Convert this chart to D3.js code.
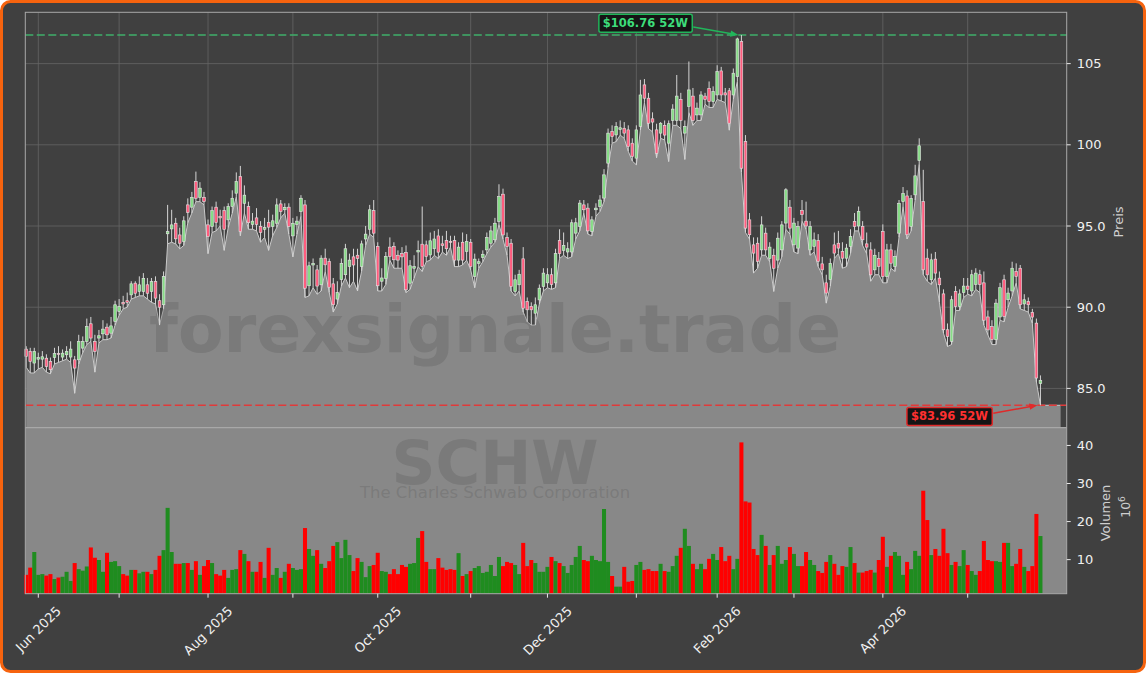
<!DOCTYPE html>
<html lang="de">
<head>
<meta charset="utf-8">
<title>SCHW</title>
<script src="https://d3js.org/d3.v7.min.js"></script>
<style>
body { margin: 0; background: #fff; font-family: "DejaVu Sans", sans-serif; }
</style>
</head>
<body>
<div id="chart"></div>
<script>
"use strict"

// Kursdaten (Mio. Stück beim Volumen), erster Handelstag 28.05.2025
const opens = [87.42,87.28,86.56,86.8,86.8,86.86,86.66,86.9,87.15,86.93,87.07,86.93,86.76,86.76,87.48,87.89,88.98,87.89,88.10,88.36,
  88.77,88.40,89.12,89.74,90.3,90.4,90.76,91.48,90.97,90.97,91.38,90.97,91.58,90.4,90.15,94.52,94.82,95.17,94.45,94.04,
  96.30,96.16,97.74,96.77,96.77,95.07,94.97,96.16,95.6,95.95,95.38,96.20,97.02,98.05,96.4,96.2,95.1,95.5,94.97,94.8,
  95.23,94.97,95.17,96.36,96.0,96.16,94.39,95.1,95.89,96.30,91.32,92.6,92.3,91.38,93.02,92.81,91.44,90.5,91.7,92.0,
  92.5,93.1,93.2,92.5,94.2,94.8,95.95,93.74,91.6,91.78,93.70,93.74,93.2,93.3,93.37,91.48,92.4,93.4,93.88,93.84,
  93.22,93.6,94.39,93.9,94.1,94.05,94.1,92.9,94.0,93.43,94.0,91.89,92.7,93.06,93.53,93.94,94.15,95.28,96.96,94.29,
  93.94,90.97,91.38,92.98,90.35,90.05,89.63,90.45,91.28,91.5,92.0,91.5,94.1,93.5,93.4,93.4,94.56,94.97,96.3,96.1,
  94.66,96.0,96.2,96.72,98.87,100.82,100.61,100.95,101.02,100.92,100.1,99.18,101.13,103.69,102.87,101.6,100.92,100.72,101.2,100.1,
  101.5,101.5,102.8,100.72,102.36,103.0,101.84,101.84,103.0,103.48,102.66,103.07,104.55,103.2,103.33,103.07,104.2,106.36,100.2,95.38,
  93.84,93.94,93.53,94.56,93.0,93.2,92.9,93.53,95.18,96.16,93.84,93.64,95.96,95.3,93.53,93.74,94.1,92.67,91.5,91.7,
  93.84,93.94,93.43,93.02,93.74,95.28,95.0,94.97,93.9,93.53,92.3,93.0,94.66,91.89,93.53,92.51,94.56,96.5,96.85,94.97,
  96.92,99.03,96.5,93.02,91.69,92.96,91.79,90.82,88.61,87.9,90.97,90.05,90.9,91.3,91.0,91.4,92.0,91.5,89.4,88.8,
  88.0,89.4,91.69,90.46,91.0,92.2,92.4,90.2,90.35,89.68,89.02,85.3];
const highs = [87.6,87.5,87.5,87.2,87.3,87.1,86.9,87.5,87.6,87.4,87.6,87.9,87.0,88.3,88.2,89.3,89.4,88.3,88.6,89.2,
  89.0,89.4,90.4,90.5,90.7,90.9,91.6,91.6,91.9,92.1,91.8,91.8,91.9,90.8,92.2,96.3,96.0,95.5,94.9,95.6,
  96.7,97.1,98.35,97.7,97.1,95.4,96.2,96.5,96.0,96.2,96.4,97.2,98.3,98.7,97.5,96.5,95.8,96.1,95.3,95.5,
  96.0,95.7,96.7,96.6,96.4,96.4,95.5,95.6,96.9,96.6,92.8,93.0,92.6,93.2,93.6,93.0,91.8,91.6,93.0,93.9,
  93.3,93.6,93.6,94.1,95.0,96.3,96.6,94.0,92.4,93.4,94.3,94.0,93.5,93.7,93.8,92.9,93.2,94.1,96.2,94.1,
  94.6,94.7,94.8,94.4,94.7,94.4,94.4,94.0,94.6,94.5,94.2,93.3,93.0,93.5,94.6,95.0,95.5,97.57,97.3,94.6,
  94.2,92.0,92.3,93.7,90.6,90.3,90.6,91.4,92.4,92.4,92.4,93.6,94.8,94.6,94.0,95.4,95.5,96.6,96.6,96.4,
  95.6,96.4,96.9,98.5,101.0,101.2,101.4,101.5,101.4,101.2,100.4,101.2,104.0,104.05,103.2,102.0,101.3,101.4,101.5,101.5,
  102.5,104.3,103.2,101.5,105.13,103.5,102.6,103.3,103.2,103.9,103.6,104.9,104.8,103.5,103.5,104.7,106.6,106.76,100.6,95.8,
  94.3,94.3,95.6,94.9,94.0,93.6,94.6,95.3,97.33,96.6,95.5,95.3,96.6,96.5,95.3,94.6,94.5,93.1,92.0,93.0,
  94.6,94.7,94.0,93.9,94.8,95.8,96.2,95.3,94.6,94.0,93.6,93.4,95.1,93.9,93.9,93.5,96.6,97.4,97.2,96.9,
  98.77,100.4,98.46,93.6,93.3,93.4,92.2,91.1,89.0,90.7,91.3,91.1,91.8,91.8,92.3,92.4,92.3,92.2,89.8,89.2,
  90.5,91.5,92.0,91.2,92.8,92.7,92.6,90.8,90.6,89.9,89.3,85.8];
const lows = [86.3,85.95,85.95,86.2,86.3,86.0,85.9,86.5,86.6,86.7,86.8,86.6,84.7,86.5,87.2,87.7,87.9,86.0,87.8,88.0,
  88.0,88.1,88.9,89.5,89.9,90.0,90.5,90.6,90.7,90.7,90.5,90.3,90.2,88.9,89.9,93.9,94.0,93.9,93.6,93.8,
  95.2,95.8,96.5,96.5,96.3,93.3,94.6,94.7,95.0,93.5,94.9,95.8,96.8,94.4,95.8,94.8,94.8,94.7,94.0,94.3,
  93.5,94.4,94.9,95.5,95.8,94.5,93.1,94.5,95.6,90.6,90.7,91.2,90.8,91.0,92.2,90.9,89.7,90.2,91.3,91.8,
  91.2,91.6,91.0,92.2,93.8,94.5,94.3,91.0,91.0,91.4,92.9,92.4,92.4,92.4,90.9,91.1,91.8,92.5,92.2,92.8,
  92.9,93.2,93.0,93.4,93.2,93.7,92.5,92.5,92.6,92.9,92.3,91.2,92.4,92.8,93.3,93.7,94.0,95.1,94.2,93.2,
  91.0,90.7,91.0,89.7,89.1,88.9,88.9,90.2,91.0,91.2,91.1,91.2,93.0,93.2,93.0,93.1,94.2,94.7,95.8,94.5,
  94.4,95.6,95.9,96.5,98.6,100.1,100.2,100.6,100.4,99.6,99.0,98.77,100.9,102.6,101.0,100.8,99.2,100.4,100.3,98.97,
  101.2,101.2,101.0,99.1,102.0,101.2,101.5,101.5,102.5,102.3,102.3,102.8,102.7,102.6,100.9,102.8,103.9,98.3,94.6,94.2,
  92.1,92.4,93.2,93.2,92.8,90.97,92.4,93.1,94.8,94.5,93.4,93.3,95.3,94.8,93.2,93.4,92.5,92.0,90.25,91.3,
  93.0,93.3,92.4,92.5,93.3,94.7,94.7,93.8,93.3,91.6,92.0,92.0,91.5,91.5,92.4,92.2,94.3,96.2,94.2,94.7,
  96.6,98.8,92.0,91.6,91.4,91.8,90.3,88.4,87.58,87.7,89.8,89.8,90.6,90.8,90.7,91.1,90.9,88.9,88.3,87.7,
  87.7,89.2,89.1,90.0,90.7,91.5,89.9,89.8,89.7,89.0,85.4,83.96];
const closes = [86.97,86.66,87.28,86.9,86.95,86.35,86.15,87.15,87.1,87.17,87.28,87.42,86.25,87.89,87.89,88.81,88.10,87.28,88.24,88.65,
  88.30,88.85,90.15,90.05,90.2,90.3,91.44,90.86,91.38,91.78,90.86,91.58,90.56,90.0,91.89,94.66,95.07,94.21,93.94,95.32,
  95.83,96.77,96.71,97.33,96.51,94.35,95.95,95.21,95.5,94.80,96.20,96.71,97.74,94.66,96.9,95.2,95.3,95.1,94.6,94.9,
  94.93,95.32,96.30,95.89,96.15,94.97,95.17,95.3,96.71,91.17,92.55,92.7,91.3,93.02,92.61,91.23,90.15,90.9,92.7,93.6,
  92.9,92.6,93.0,93.9,94.5,96.0,94.56,91.32,91.8,93.12,93.12,92.92,92.9,93.1,91.07,92.55,92.5,93.5,92.51,93.12,
  94.09,94.2,93.39,93.8,93.6,94.0,92.9,93.7,92.9,94.04,92.5,92.96,92.8,93.26,94.29,94.7,95.17,96.81,94.45,93.74,
  91.27,91.69,92.03,89.94,89.84,89.84,90.15,91.17,92.1,92.0,91.4,93.3,93.3,93.8,93.6,95.2,95.2,96.41,96.0,94.7,
  95.38,96.1,96.6,98.15,100.72,100.51,101.13,101.05,100.72,99.89,99.28,100.92,103.07,102.87,101.33,101.4,99.48,101.33,100.6,101.3,
  102.2,103.0,101.5,101.13,103.38,101.5,102.26,103.07,102.8,102.66,103.28,104.51,103.07,103.07,101.33,104.41,106.52,98.56,94.87,94.46,
  93.33,92.82,95.07,93.53,93.7,92.4,94.25,95.07,97.23,94.87,95.18,94.97,95.7,95.0,94.97,94.15,92.82,92.3,90.87,92.7,
  93.33,93.64,93.02,93.64,94.35,94.97,95.9,94.15,93.7,91.99,93.2,92.5,91.89,93.53,92.71,93.12,96.4,97.0,94.46,96.7,
  98.09,99.94,92.3,91.99,92.92,92.1,91.38,88.61,88.2,90.46,90.05,90.82,91.3,91.1,92.0,92.1,91.4,89.2,88.6,88.0,
  90.25,91.2,89.43,90.87,92.4,91.9,90.15,90.46,90.15,89.39,85.64,85.5];
const volumes = [6.0,7.9,12.0,6.0,6.2,5.8,6.2,4.9,5.3,5.5,6.8,4.4,9.1,7.5,7.1,8.2,13.2,10.5,9.9,6.8,
  11.8,9.4,9.6,8.3,6.2,5.8,7.3,7.3,6.4,6.8,6.8,6.2,7.3,11.0,12.5,23.6,12.0,8.9,8.9,9.1,
  9.1,7.3,9.6,6.0,8.3,9.9,9.1,6.2,5.8,7.3,5.2,7.3,7.5,12.5,11.5,9.6,6.8,6.8,9.4,5.2,
  13.1,6.0,7.8,5.2,6.8,8.9,7.8,7.3,7.5,18.3,12.8,11.0,12.5,8.9,7.8,9.6,13.6,14.6,10.4,15.2,
  11.2,7.0,10.4,9.4,5.4,8.3,8.6,11.8,7.0,6.8,6.2,7.5,6.2,8.6,8.1,8.9,9.1,15.7,17.5,9.4,
  7.5,7.5,10.4,7.9,7.3,7.5,7.3,11.7,5.7,6.2,7.0,7.8,8.3,6.5,6.8,8.6,5.7,10.7,8.3,9.4,
  9.1,8.6,6.2,14.4,8.3,9.9,9.1,6.8,6.8,8.1,10.7,9.6,9.1,8.3,6.5,8.6,10.7,13.6,9.9,9.6,
  11.0,9.9,9.6,23.3,9.4,5.7,2.9,2.9,8.1,4.2,4.4,8.6,9.4,7.3,7.5,7.0,7.0,8.9,7.0,6.8,
  8.3,11.0,13.1,18.1,13.6,8.9,7.5,8.9,7.5,10.2,11.5,9.9,13.3,9.6,11.0,7.5,10.2,40.8,25.3,25.0,
  12.8,11.2,16.5,13.6,8.6,11.2,13.6,8.9,9.9,13.3,11.5,8.3,8.3,12.0,9.9,8.6,7.0,6.5,9.4,11.2,
  8.9,6.0,8.3,8.1,13.3,9.1,6.6,6.6,7.0,7.3,6.6,9.9,16.0,8.1,11.0,12.0,11.0,6.0,9.4,7.5,
  12.3,11.0,28.1,20.4,11.2,12.8,11.0,18.1,11.7,8.6,9.4,8.3,12.5,8.6,7.0,6.0,7.0,14.9,9.9,9.6,
  9.6,9.4,14.4,14.4,8.3,8.9,12.8,8.1,7.0,8.3,22.0,16.2];

const firstDay = "2025-05-28";
const holidays = ["2025-06-19","2025-07-04","2025-09-01","2025-11-27","2025-12-25","2026-01-01",
  "2026-01-19","2026-02-16","2026-04-03","2026-05-25"];
const monthStarts = ["2025-06-02","2025-07-01","2025-08-01","2025-09-02","2025-10-01","2025-11-03",
  "2025-12-01","2026-01-02","2026-02-02","2026-03-02","2026-04-01","2026-05-01"];
const monthLabels = ["Jun 2025","","Aug 2025","","Oct 2025","","Dec 2025","","Feb 2026","","Apr 2026",""];
const priceTicks = [85, 90, 95, 100, 105];
const priceTickLabels = ["85.0","90.0","95.0","100","105"];
const volTicks = [10, 20, 30, 40];
const high52 = 106.76, low52 = 83.96;
const ticker = "SCHW", company = "The Charles Schwab Corporation";

// Handelstage (ohne Wochenenden und Börsenfeiertage)
const fmt = d3.timeFormat("%Y-%m-%d");
const dates = [];
let day = d3.timeParse("%Y-%m-%d")(firstDay);
while (dates.length < closes.length) {
  const wd = day.getDay();
  if (wd !== 0 && wd !== 6 && !holidays.includes(fmt(day))) dates.push(fmt(day));
  day = d3.timeDay.offset(day, 1);
}

const W = 1146, H = 673;
const L = 25.3, R = 1066.7, T = 12.3, MID = 427.7, B = 593.7;

const svg = d3.select("#chart").append("svg")
  .attr("width", W).attr("height", H)
  .style("display", "block");

svg.append("rect")
  .attr("x", 1.5).attr("y", 1.5).attr("width", W - 3).attr("height", H - 3)
  .attr("rx", 9).attr("fill", "#404040")
  .attr("stroke", "#f6630e").attr("stroke-width", 3);

const x = d3.scaleLinear().domain([-0.22, 257.5]).range([L, R]);
const yP = d3.scaleLinear().domain([82.58, 108.16]).range([MID, T]);
const yV = d3.scaleLinear().domain([1.05, 44.66]).range([B, MID]);
const step = x(1) - x(0);

const data = closes.map((c, i) => ({
  i: i, o: opens[i], h: highs[i], l: lows[i], c: c, v: volumes[i], up: c >= opens[i]
}));
const tickIdx = monthStarts.map(d => dates.indexOf(d));

// Gitter Preis-Panel
const grid = svg.append("g").attr("stroke", "#646464").attr("stroke-width", 0.8);
grid.selectAll("line.h").data(priceTicks).enter().append("line")
  .attr("x1", L).attr("x2", R)
  .attr("y1", d => yP(d)).attr("y2", d => yP(d));
grid.selectAll("line.v").data(tickIdx).enter().append("line")
  .attr("x1", d => x(d)).attr("x2", d => x(d))
  .attr("y1", T).attr("y2", MID);

// Flaeche unter den Tiefs
const areaPts = data.map(d => [d.i, d.l]);
areaPts.push([256, lows[lows.length - 1]]);
svg.append("path")
  .datum(areaPts)
  .attr("fill", "#888888")
  .attr("d", d3.area().x(d => x(d[0])).y0(MID).y1(d => yP(d[1])));
svg.append("path")
  .datum(areaPts)
  .attr("fill", "none").attr("stroke", "#c9c9c9").attr("stroke-width", 1)
  .attr("d", d3.line().x(d => x(d[0])).y(d => yP(d[1])));

// Volumen-Panel
svg.append("rect")
  .attr("x", L).attr("y", MID).attr("width", R - L).attr("height", B - MID)
  .attr("fill", "#888888");

// Wasserzeichen
const wm = svg.append("g").attr("fill", "#5a5a5a").attr("fill-opacity", 0.3)
  .attr("text-anchor", "middle");
const wm1 = wm.append("text").attr("x", 495).attr("y", 352)
  .attr("font-weight", "bold").attr("font-size", 62).text("forexsignale.trade");
wm.append("text").attr("x", 495).attr("y", 484)
  .attr("font-weight", "bold").attr("font-size", 61).text(ticker);
wm.append("text").attr("x", 495).attr("y", 498)
  .attr("font-size", 16.5).text(company);
const w1 = wm1.node().getComputedTextLength();
wm1.attr("font-size", 62 * 692 / w1);

// Volumenbalken
svg.append("g").selectAll("rect").data(data).enter().append("rect")
  .attr("x", d => x(d.i) - step / 2)
  .attr("width", step)
  .attr("y", d => yV(d.v))
  .attr("height", d => B - yV(d.v))
  .attr("fill", d => d.up ? "#1f8c1f" : "#ff0000");

// 52W-Linien
svg.append("line")
  .attr("x1", L).attr("x2", R).attr("y1", yP(high52)).attr("y2", yP(high52))
  .attr("stroke", "#3fae6a").attr("stroke-width", 1.5).attr("stroke-dasharray", "8,3.5");
svg.append("line")
  .attr("x1", L).attr("x2", R).attr("y1", yP(low52)).attr("y2", yP(low52))
  .attr("stroke", "#e03a3a").attr("stroke-width", 1.5).attr("stroke-dasharray", "8,3.5");

// Kerzen
const candles = svg.append("g");
candles.selectAll("line").data(data).enter().append("line")
  .attr("x1", d => x(d.i)).attr("x2", d => x(d.i))
  .attr("y1", d => yP(d.h)).attr("y2", d => yP(d.l))
  .attr("stroke", "#d4d4d4").attr("stroke-width", 1);
candles.selectAll("rect").data(data).enter().append("rect")
  .attr("x", d => x(d.i) - step * 0.33)
  .attr("width", step * 0.66)
  .attr("y", d => yP(Math.max(d.o, d.c)))
  .attr("height", d => Math.max(1, Math.abs(yP(d.o) - yP(d.c))))
  .attr("fill", d => d.up ? "#86dc86" : "#ff5c7e")
  .attr("stroke", "#e6e6e6").attr("stroke-width", 0.6);

// Rahmen
svg.append("rect").attr("x", L).attr("y", T).attr("width", R - L).attr("height", B - T)
  .attr("fill", "none").attr("stroke", "#a8a8a8").attr("stroke-width", 1);
svg.append("line").attr("x1", L).attr("x2", R).attr("y1", MID).attr("y2", MID)
  .attr("stroke", "#a8a8a8").attr("stroke-width", 1.2);

// Achsen rechts
const axP = svg.append("g").attr("font-size", 13).attr("fill", "#f0f0f0");
priceTicks.forEach((t, k) => {
  axP.append("line").attr("x1", R).attr("x2", R + 4).attr("y1", yP(t)).attr("y2", yP(t))
    .attr("stroke", "#e8e8e8");
  axP.append("text").attr("x", R + 10).attr("y", yP(t)).attr("dy", "0.36em").text(priceTickLabels[k]);
});
volTicks.forEach(t => {
  axP.append("line").attr("x1", R).attr("x2", R + 4).attr("y1", yV(t)).attr("y2", yV(t))
    .attr("stroke", "#e8e8e8");
  axP.append("text").attr("x", R + 10).attr("y", yV(t)).attr("dy", "0.36em").text(t);
});
svg.append("text").attr("transform", "translate(1123,222) rotate(-90)")
  .attr("text-anchor", "middle").attr("font-size", 13).attr("fill", "#cfcfcf").text("Preis");
svg.append("text").attr("transform", "translate(1110,513) rotate(-90)")
  .attr("text-anchor", "middle").attr("font-size", 13).attr("fill", "#cfcfcf").text("Volumen");
const exp = svg.append("text").attr("transform", "translate(1130,507) rotate(-90)")
  .attr("text-anchor", "middle").attr("font-size", 12.5).attr("fill", "#cfcfcf");
exp.append("tspan").text("10");
exp.append("tspan").attr("dy", -5).attr("font-size", 9).text("6");

// X-Achse
const axX = svg.append("g").attr("font-size", 13).attr("fill", "#f0f0f0");
tickIdx.forEach((ti, k) => {
  axX.append("line").attr("x1", x(ti)).attr("x2", x(ti)).attr("y1", B).attr("y2", B + 4)
    .attr("stroke", "#e8e8e8");
  if (!monthLabels[k]) return;
  const t = axX.append("text").attr("text-anchor", "middle").attr("dy", "0.35em").text(monthLabels[k]);
  const w = t.node().getComputedTextLength();
  const cy = B + 11 + (w + 11) * 0.3536;
  t.attr("transform", "translate(" + x(ti) + "," + cy + ") rotate(-45)");
});

// 52W-Annotationen
function annotate(idx, val, dx, dy, col, txtCol, label) {
  const ax = x(idx) - 3, ay = yP(val);
  const g = svg.append("g");
  const t = g.append("text").attr("x", ax + dx).attr("y", ay + dy).attr("dy", "0.36em")
    .attr("text-anchor", "middle").attr("font-weight", "bold").attr("font-size", 11.5)
    .attr("fill", txtCol).text(label);
  const bb = t.node().getBBox();
  g.insert("rect", "text").attr("x", bb.x - 4).attr("y", bb.y - 2)
    .attr("width", bb.width + 8).attr("height", bb.height + 4).attr("rx", 2)
    .attr("fill", "#151515").attr("stroke", col).attr("stroke-width", 1.5);
  const sx = bb.x + bb.width + 4 + 1, sy = ay + dy + (dy < 0 ? 4 : -3);
  const ang = Math.atan2(ay - sy, ax - sx);
  g.append("line").attr("x1", sx).attr("y1", sy)
    .attr("x2", ax - 7 * Math.cos(ang)).attr("y2", ay - 7 * Math.sin(ang))
    .attr("stroke", col).attr("stroke-width", 1.5);
  const p1 = [ax - 8 * Math.cos(ang) + 3.2 * Math.sin(ang), ay - 8 * Math.sin(ang) - 3.2 * Math.cos(ang)];
  const p2 = [ax - 8 * Math.cos(ang) - 3.2 * Math.sin(ang), ay - 8 * Math.sin(ang) + 3.2 * Math.cos(ang)];
  g.append("path").attr("d", "M" + ax + "," + ay + "L" + p1 + "L" + p2 + "Z").attr("fill", col);
}
const iHigh = highs.indexOf(d3.max(highs));
const iLow = lows.indexOf(d3.min(lows));
annotate(iHigh, high52, -93, -12, "#21b55a", "#3ddc7a", "$" + high52.toFixed(2) + " 52W");
annotate(iLow, low52, -88, 11, "#e02a2a", "#ff3030", "$" + low52.toFixed(2) + " 52W");
</script>
</body>
</html>
